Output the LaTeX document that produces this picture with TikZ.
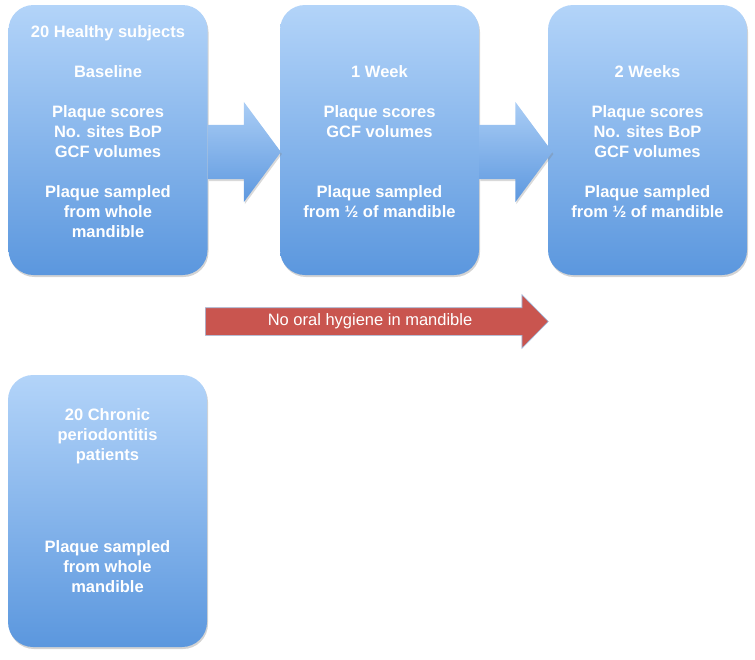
\documentclass[tikz,border=0pt]{standalone}
\usepackage{fontspec}
\setmainfont{Liberation Sans}
\usetikzlibrary{shapes,shadows,positioning,calc}

\definecolor{boxtop}{HTML}{B3D4F9}
\definecolor{boxbot}{HTML}{5B97DE}
\definecolor{arrtop}{HTML}{AACDF5}
\definecolor{arrbot}{HTML}{5D98DF}
\definecolor{noohred}{HTML}{C9554F}
\definecolor{noohline}{HTML}{9DB9DD}

\tikzset{
  stage/.style={rounded corners=25pt, minimum width=199pt, minimum height=270pt,
    top color=boxtop, bottom color=boxbot,
    drop shadow={shadow xshift=1pt, shadow yshift=-2pt, opacity=.35}},
  stagetext/.style={text=white, align=center, inner sep=0pt, anchor=north,
    font=\fontsize{16.5}{20}\selectfont\bfseries},
  blockarrow/.style={single arrow, single arrow head extend=23pt,
    single arrow tip angle=107, minimum height=73pt, inner xsep=0pt,
    inner ysep=27pt, text height=0pt, text depth=0pt, anchor=tail,
    top color=arrtop, bottom color=arrbot,
    drop shadow={shadow xshift=1pt, shadow yshift=-2pt, opacity=.3}},
  hygiene/.style={single arrow, single arrow head extend=13pt,
    single arrow tip angle=91, minimum height=343pt, inner ysep=5.75pt,
    text height=12pt, text depth=3.5pt, anchor=tail,
    fill=noohred, draw=noohline, line width=.6pt, text=white,
    font=\fontsize{16.5}{20}\selectfont}
}

\begin{document}
\begin{tikzpicture}[x=1pt,y=-1pt]
\useasboundingbox (0,0) rectangle (755,659);

% Healthy subjects, three visits
\node[stage] (base) at (108,140) {};
\node[stage] (week1) at (379.5,140) {};
\node[stage] (week2) at (647.5,140) {};

\node[stagetext, below=21pt of base.north] (basetxt) {20 Healthy subjects\\[20pt]
  Baseline\\[20pt]Plaque scores\\No. sites BoP\\GCF volumes\\[20pt]
  Plaque sampled\\from whole\\mandible};
\node[stagetext, below=61pt of week1.north] (week1txt) {1 Week\\[20pt]
  Plaque scores\\GCF volumes\\[40pt]Plaque sampled\\from ½ of mandible};
\node[stagetext, below=61pt of week2.north] (week2txt) {2 Weeks\\[20pt]
  Plaque scores\\No. sites BoP\\GCF volumes\\[20pt]
  Plaque sampled\\from ½ of mandible};

% Arrows between visits
\node[blockarrow] (arrA) at ($(base.east)+(0,12)$) {};
\node[blockarrow] (arrB) at ($(week1.east)+(0,12)$) {};

% No oral hygiene
\node[hygiene] (nooh) at (205,321.5) {No oral hygiene in mandible};

% Periodontitis patients
\node[stage, minimum height=272pt] (perio) at (107.5,511) {};
\node[stagetext, below=34pt of perio.north] (periotxt) {20 Chronic\\periodontitis\\
  patients\\[72pt]Plaque sampled\\from whole\\mandible};
\end{tikzpicture}
\end{document}
